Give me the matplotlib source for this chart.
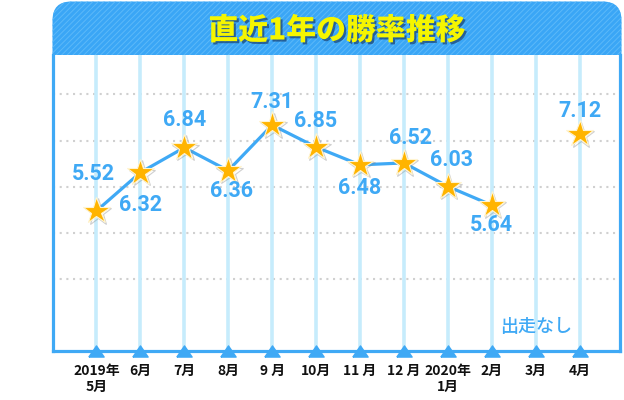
import numpy as np
import matplotlib
matplotlib.use("Agg")
import matplotlib.pyplot as plt
import matplotlib.patheffects as pe
from matplotlib.patches import FancyBboxPatch
from matplotlib.transforms import blended_transform_factory

# ---- data ----
months = ['2019年\n5月', '6月', '7月', '8月', '9 月', '10月', '11 月', '12 月',
          '2020年\n1月', '2月', '3月', '4月']
win_rate = [5.52, 6.32, 6.84, 6.36, 7.31, 6.85, 6.48, 6.52, 6.03, 5.64, np.nan, 7.12]
no_race_label = '出走なし'
no_race_index = 10
title = '直近1年の勝率推移'

# label placement (pixels, positive = up) -- styling only
label_dy = [37, -32, 28, -20, 23, 26, -23, 25, 26, -20, 23]
label_dx = [-3, 0, 0, 3, 0, 0, 0, 7, 4, 0, 0]

BLUE = '#3fa9f5'
LIGHT = '#c6ecfc'
JP = ['Noto Sans CJK JP', 'DejaVu Sans']

plt.rcParams['hatch.linewidth'] = 0.7

fig = plt.figure(figsize=(6.24, 4.0), dpi=100)
W, H = 624, 400

# banner
bx0, bx1, by0, by1 = 52.5, 621.5, 1.5, 80
ban = FancyBboxPatch((bx0 / W, 1 - by1 / H), (bx1 - bx0) / W, (by1 - by0) / H,
                     boxstyle='round,pad=0,rounding_size=0.03',
                     transform=fig.transFigure, facecolor='#3aa6f6',
                     edgecolor='none', zorder=-2, mutation_aspect=W / H)
fig.patches.append(ban)
ban2 = FancyBboxPatch((bx0 / W, 1 - by1 / H), (bx1 - bx0) / W, (by1 - by0) / H,
                      boxstyle='round,pad=0,rounding_size=0.03',
                      transform=fig.transFigure, facecolor='none',
                      edgecolor='#5cb9f9', linewidth=0, hatch='//////',
                      zorder=-1, mutation_aspect=W / H)
fig.patches.append(ban2)
fig.text(337 / W, 1 - 30 / H, title, ha='center', va='center', color='#f5f500',
         fontsize=21.5, fontweight='heavy', family=JP,
         path_effects=[pe.withSimplePatchShadow(offset=(1.5, -1.5),
                                                shadow_rgbFace='#14305a', alpha=0.6)])

ax = fig.add_axes([52.5 / W, 1 - 351 / H, (620 - 52.5) / W, (351 - 55) / H])
ax.set_facecolor('white')
x = np.arange(len(months))
ax.set_xlim(-1.0, 11.92)
ax.set_ylim(2.60, 8.77)

# dotted horizontal grid (decorative)
for f in [0.868, 0.710, 0.555, 0.400, 0.243]:
    ax.plot([0, 1], [f, f], transform=ax.transAxes, color='#d0d0d0',
            lw=1.5, linestyle=(0, (1, 2.2)), zorder=0.5)

for xi in x:
    ax.axvline(xi, color=LIGHT, lw=2.6, zorder=1)

trans = blended_transform_factory(ax.transData, ax.transAxes)
tri = [(-1, -0.73), (1, -0.73), (0, 0.73), (-1, -0.73)]
ax.plot(x, np.zeros(len(x)), transform=trans, ls='none', marker=tri,
        ms=11, color=BLUE, mec=BLUE, clip_on=False, zorder=3)

vals = np.array(win_rate, dtype=float)
ax.plot(x, vals, color=BLUE, lw=2.3, zorder=4, solid_capstyle='round')
ax.plot(x, vals, ls='none', marker='*', ms=20, color='#ffb400',
        mec='#fff4d0', mew=0.8, zorder=5,
        path_effects=[pe.SimpleLineShadow(offset=(1, -1), shadow_color='#888', alpha=0.4),
                      pe.Normal()])

k = 0
for xi, v in zip(x, vals):
    if np.isnan(v):
        continue
    ax.annotate(f'{v:.2f}', (xi, v), xytext=(label_dx[k], label_dy[k]),
                textcoords='offset pixels', ha='center', va='center',
                color=BLUE, fontsize=15.5, fontweight='bold', family='Roboto',
                zorder=6)
    k += 1

ax.text(no_race_index, 0.082, no_race_label, transform=trans, ha='center',
        va='center', color=BLUE, fontsize=13, fontweight='medium', family=JP,
        zorder=6)

for s in ['left', 'right', 'bottom']:
    ax.spines[s].set_color(BLUE)
    ax.spines[s].set_linewidth(2.3)
ax.spines['top'].set_visible(False)

ax.set_yticks([])
ax.set_xticks(x)
ax.set_xticklabels(months, fontsize=10, fontweight='bold', family=JP,
                   linespacing=1.25, color='#111111')
ax.tick_params(axis='x', length=0, pad=9)

fig.savefig('out.png', dpi=100)
